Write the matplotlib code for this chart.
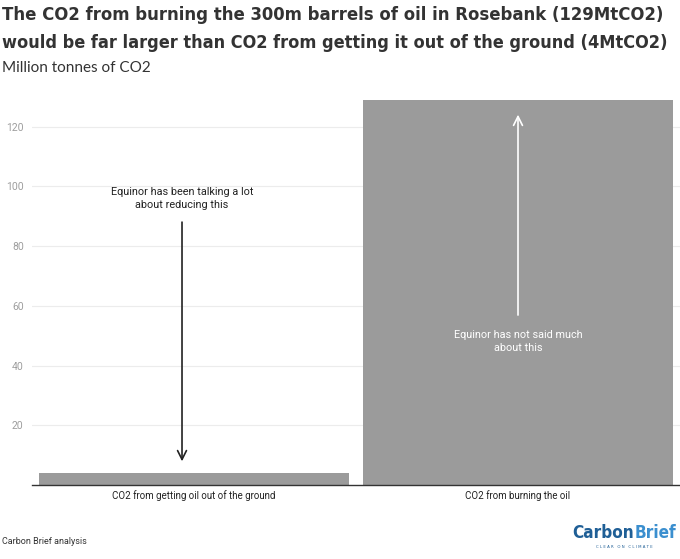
import matplotlib
matplotlib.use("Agg")
import matplotlib.pyplot as plt

categories = ["CO2 from getting oil out of the ground", "CO2 from burning the oil"]
values = [4, 129]
yticks = [20, 40, 60, 80, 100, 120]


def fit_width(txt, width_px, renderer):
    # shrink/grow font so the text spans the wanted number of pixels
    w = txt.get_window_extent(renderer).width
    txt.set_fontsize(txt.get_fontsize() * width_px / w)


fig = plt.figure(figsize=(6.8, 5.59), dpi=100)
ax = fig.add_axes([32 / 680, (559 - 485) / 559, 648 / 680, 400 / 559])

ax.bar(range(len(values)), values, width=0.957, color="#9b9b9b", zorder=2)
ax.set_xlim(-0.5, 1.5)
ax.set_ylim(0, 134)
ax.set_yticks(yticks)
ax.set_yticklabels([str(t) for t in yticks], color="#9e9e9e", fontsize=7.5, family="Roboto")
ax.set_xticks(range(len(categories)))
ax.set_xticklabels(categories, fontsize=7, family="Roboto", color="#222222")
ax.tick_params(axis="y", length=0, pad=6)
ax.tick_params(axis="x", length=0, pad=4)
ax.grid(axis="y", color="#ececec", linewidth=0.8, zorder=0)
for s in ["top", "right", "left"]:
    ax.spines[s].set_visible(False)
ax.spines["bottom"].set_color("#333333")
ax.spines["bottom"].set_linewidth(1)

# annotations
ax.annotate("", xy=(-0.037, 7), xytext=(-0.037, 89),
            arrowprops=dict(arrowstyle="->", color="#222222", lw=1.2, mutation_scale=16))
ax.text(-0.037, 96, "Equinor has been talking a lot\nabout reducing this", ha="center", va="center",
        fontsize=7.8, family="Roboto", color="#222222", linespacing=1.4)
ax.annotate("", xy=(1.0, 125), xytext=(1.0, 56),
            arrowprops=dict(arrowstyle="->", color="white", lw=1.2, mutation_scale=16))
ax.text(1.0, 48, "Equinor has not said much\nabout this", ha="center", va="center",
        fontsize=7.8, family="Roboto", color="white", linespacing=1.4)

cond = dict(family="DejaVu Sans", fontstretch="condensed", fontweight="bold")
t1 = fig.text(0.003, 0.99, "The CO2 from burning the 300m barrels of oil in Rosebank (129MtCO2)",
              ha="left", va="top", fontsize=16, color="#333333", **cond)
t2 = fig.text(0.003, 0.94, "would be far larger than CO2 from getting it out of the ground (4MtCO2)",
              ha="left", va="top", fontsize=16, color="#333333", **cond)
fig.text(0.003, 0.878, "Million tonnes of CO2", ha="left", va="center",
         fontsize=11, family="Lato", color="#333333")
fig.text(0.003, 0.032, "Carbon Brief analysis", ha="left", va="center",
         fontsize=6.5, family="Roboto", color="#333333")

# logo
l1 = fig.text(572 / 680, 0.03, "Carbon", ha="left", va="bottom", fontsize=15,
              color="#1f5f96", **cond)
l2 = fig.text(0.995, 0.03, "Brief", ha="right", va="bottom", fontsize=15,
              color="#3b8fcf", **cond)
fig.text(0.918, 0.021, "C L E A R   O N   C L I M A T E", ha="center", va="center",
         fontsize=2.8, family="DejaVu Sans", color="#1f5f96")

r = fig.canvas.get_renderer()
fit_width(t1, 666, r)
fit_width(t2, 666, r)
fit_width(l1, 62, r)
l2.set_fontsize(l1.get_fontsize())
l2.set_ha("left")
l2.set_x(l1.get_window_extent(r).x1 / 680 + 0.001)

fig.savefig("out.png", dpi=100)
